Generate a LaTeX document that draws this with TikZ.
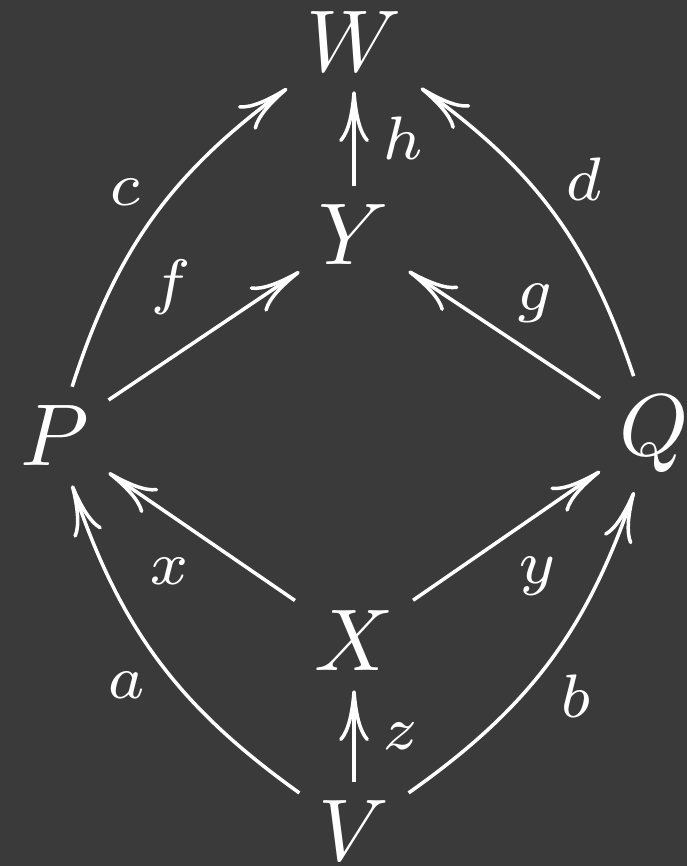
\documentclass[tikz,border=0pt]{standalone}
\usetikzlibrary{arrows.meta}
\definecolor{bgdark}{RGB}{58,58,58}
\tikzset{
  obj/.style = {text=white, inner sep=2pt},
  map/.style = {draw=white, line width=0.4pt,
                -{Computer Modern Rightarrow[length=5.8pt, width=3.4pt]}},
  lbl/.style = {text=white, font=\scriptsize, inner sep=1.2pt},
  vlbl/.style = {lbl, inner sep=3pt},
}
\begin{document}
\begin{tikzpicture}[x=0.114pt, y=-0.114pt]
\useasboundingbox (0,0) rectangle (687,866);
\fill[bgdark] (0,0) rectangle (687,866);

% objects
\node[obj] (W) at (354,42)  {$W$};
\node[obj] (Y) at (354,235) {$Y$};
\node[obj] (P) at (55,436)  {$P$};
\node[obj] (Q) at (654,434) {$Q$};
\node[obj] (X) at (354,641) {$X$};
\node[obj] (V) at (354,831) {$V$};

% maps
\draw[map, auto] (V) to[bend left=18] node[lbl] {$a$} (P);
\draw[map, auto] (V) to[bend right=18] node[lbl, swap] {$b$} (Q);
\draw[map, auto] (V) -- node[vlbl, swap] {$z$} (X);
\draw[map, auto] (X) -- node[lbl, yshift=-1pt] {$x$} (P);
\draw[map, auto] (X) -- node[lbl, swap, yshift=-1pt] {$y$} (Q);
\draw[map, auto] (P) -- node[lbl, yshift=1pt] {$f$} (Y);
\draw[map, auto] (Q) -- node[lbl, swap] {$g$} (Y);
\draw[map, auto] (Y) -- node[vlbl, swap] {$h$} (W);
\draw[map, auto] (P) to[bend left=18] node[lbl] {$c$} (W);
\draw[map, auto] (Q) to[bend right=18] node[lbl, swap] {$d$} (W);
\end{tikzpicture}
\end{document}
